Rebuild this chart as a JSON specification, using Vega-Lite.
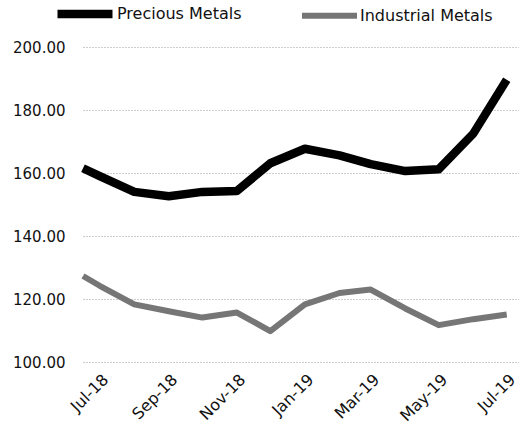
{
  "$schema": "https://vega.github.io/schema/vega-lite/v6.json",
  "width": 436,
  "height": 315,
  "autosize": {"type": "none"},
  "padding": {"left": 83, "top": 47, "right": 0, "bottom": 69},
  "background": "white",
  "config": {"view": {"stroke": null}, "font": "DejaVu Sans"},
  "data": {
    "values": [
      {"date": "2018-06-16", "series": "Precious Metals", "value": 161.5},
      {"date": "2018-07-01", "series": "Precious Metals", "value": 159.0},
      {"date": "2018-08-01", "series": "Precious Metals", "value": 154.0},
      {"date": "2018-09-01", "series": "Precious Metals", "value": 152.6},
      {"date": "2018-10-01", "series": "Precious Metals", "value": 154.0},
      {"date": "2018-11-01", "series": "Precious Metals", "value": 154.3},
      {"date": "2018-12-01", "series": "Precious Metals", "value": 163.1},
      {"date": "2019-01-01", "series": "Precious Metals", "value": 167.7},
      {"date": "2019-02-01", "series": "Precious Metals", "value": 165.6},
      {"date": "2019-03-01", "series": "Precious Metals", "value": 162.8},
      {"date": "2019-04-01", "series": "Precious Metals", "value": 160.6},
      {"date": "2019-05-01", "series": "Precious Metals", "value": 161.2},
      {"date": "2019-06-01", "series": "Precious Metals", "value": 172.5},
      {"date": "2019-07-01", "series": "Precious Metals", "value": 189.6},
      {"date": "2018-06-16", "series": "Industrial Metals", "value": 127.3},
      {"date": "2018-07-01", "series": "Industrial Metals", "value": 124.2},
      {"date": "2018-08-01", "series": "Industrial Metals", "value": 118.3},
      {"date": "2018-09-01", "series": "Industrial Metals", "value": 116.1},
      {"date": "2018-10-01", "series": "Industrial Metals", "value": 114.1},
      {"date": "2018-11-01", "series": "Industrial Metals", "value": 115.7},
      {"date": "2018-12-01", "series": "Industrial Metals", "value": 109.8},
      {"date": "2019-01-01", "series": "Industrial Metals", "value": 118.3},
      {"date": "2019-02-01", "series": "Industrial Metals", "value": 121.9},
      {"date": "2019-03-01", "series": "Industrial Metals", "value": 123.0},
      {"date": "2019-04-01", "series": "Industrial Metals", "value": 117.0},
      {"date": "2019-05-01", "series": "Industrial Metals", "value": 111.7},
      {"date": "2019-06-01", "series": "Industrial Metals", "value": 113.6},
      {"date": "2019-07-01", "series": "Industrial Metals", "value": 115.1}
    ]
  },
  "mark": {"type": "line", "strokeJoin": "round"},
  "encoding": {
    "x": {
      "field": "date",
      "type": "temporal",
      "scale": {
        "type": "utc",
        "domain": [
          {"year": 2018, "month": 6, "date": 16, "utc": true},
          {"year": 2019, "month": 7, "date": 12, "utc": true}
        ]
      },
      "axis": {
        "title": null,
        "grid": false,
        "domain": false,
        "ticks": false,
        "values": [
          {"year": 2018, "month": 7, "date": 1, "utc": true},
          {"year": 2018, "month": 9, "date": 1, "utc": true},
          {"year": 2018, "month": 11, "date": 1, "utc": true},
          {"year": 2019, "month": 1, "date": 1, "utc": true},
          {"year": 2019, "month": 3, "date": 1, "utc": true},
          {"year": 2019, "month": 5, "date": 1, "utc": true},
          {"year": 2019, "month": 7, "date": 1, "utc": true}
        ],
        "labelExpr": "utcFormat(datum.value, '%b-%y')",
        "labelAngle": -45,
        "labelFontSize": 16,
        "labelColor": "#111",
        "labelPadding": 9,
        "labelFlush": false,
        "labelOverlap": false
      }
    },
    "y": {
      "field": "value",
      "type": "quantitative",
      "scale": {"domain": [100, 200], "nice": false, "zero": false},
      "axis": {
        "title": null,
        "values": [100, 120, 140, 160, 180, 200],
        "format": ".2f",
        "domain": false,
        "ticks": false,
        "labelFontSize": 15,
        "labelColor": "#111",
        "labelPadding": 18,
        "gridColor": "#9a9a9a",
        "gridDash": [1, 2],
        "gridWidth": 1
      }
    },
    "color": {
      "field": "series",
      "type": "nominal",
      "scale": {"domain": ["Precious Metals", "Industrial Metals"], "range": ["#000000", "#767676"]},
      "legend": {
        "title": null,
        "orient": "none",
        "direction": "horizontal",
        "legendX": -30,
        "legendY": -65,
        "symbolType": "stroke",
        "symbolSize": 3025,
        "symbolStrokeWidth": 7,
        "labelFontSize": 16,
        "labelColor": "#111",
        "labelOffset": 0,
        "columnPadding": 48
      }
    },
    "strokeWidth": {
      "field": "series",
      "type": "nominal",
      "scale": {"domain": ["Precious Metals", "Industrial Metals"], "range": [8.5, 6]},
      "legend": null
    }
  }
}
